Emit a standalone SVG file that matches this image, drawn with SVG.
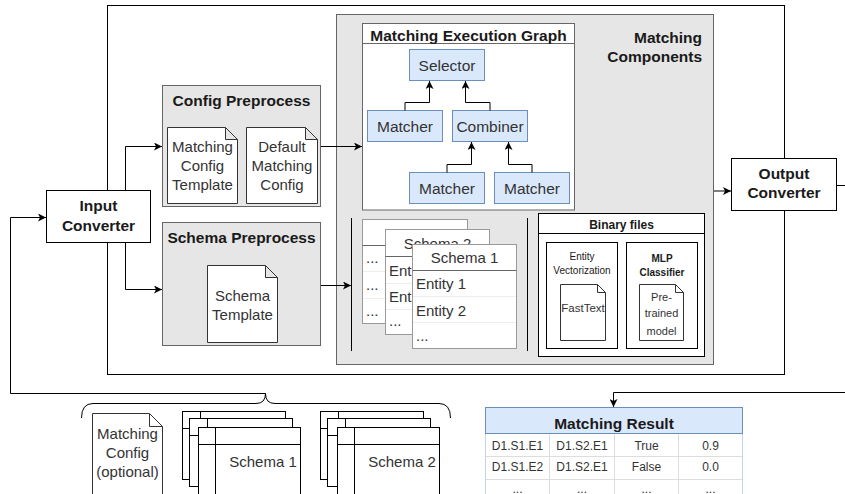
<svg xmlns="http://www.w3.org/2000/svg" width="845" height="494" viewBox="0 0 845 494">
  <defs>
    <marker id="arr" viewBox="0 0 10 10" refX="10" refY="5" markerWidth="8" markerHeight="8" markerUnits="userSpaceOnUse" orient="auto">
      <path d="M0,0 L10,5 L0,10 L2.5,5 Z" fill="#000"/>
    </marker>
    <style>
      text { font-family: "Liberation Sans", Arial, sans-serif; }
      .panel { fill: #e6e6e6; stroke: #666; stroke-width: 1; }
      .box { fill: #fff; stroke: #000; stroke-width: 1; }
      .wbox { fill: #fff; stroke: #666; stroke-width: 1; }
      .doc { fill: #fff; stroke: #333; stroke-width: 1; }
      .node { fill: #dae8fc; stroke: #6c8ebf; stroke-width: 1; }
      .card { fill: #fff; stroke: #999; stroke-width: 1; }
      .sep { stroke: #666; stroke-width: 1; fill: none; }
      .rowsep { stroke: #eee; stroke-width: 1; }
      .title { font-size: 15.5px; font-weight: bold; fill: #1a1a1a; }
      .lbl { font-size: 15px; fill: #333; }
      .nlbl { font-size: 15.5px; fill: #333; text-anchor: middle; }
      .mid { text-anchor: middle; }
      .small { font-size: 10px; fill: #1a1a1a; }
      .cell { font-size: 12px; fill: #333; text-anchor: middle; }
      .edge { fill: none; stroke: #000; stroke-width: 1; }
      .grid { stroke: #ddd; stroke-width: 1; }
    </style>
  </defs>

  <!-- outer system frame -->
  <rect x="107.5" y="5.5" width="677" height="369" fill="#fff" stroke="#000"/>

  <!-- Config Preprocess -->
  <g id="config-preprocess">
    <rect class="panel" x="162.5" y="85.5" width="158" height="121"/>
    <text class="title mid" x="241.5" y="106">Config Preprocess</text>
    <g id="matching-config-template">
      <path class="doc" d="M167.5,127.5 H225.5 L237.5,139.5 V203.5 H167.5 Z M225.5,127.5 V139.5 H237.5"/>
      <text class="lbl mid" x="202.5" y="152">Matching</text>
      <text class="lbl mid" x="202.5" y="171">Config</text>
      <text class="lbl mid" x="202.5" y="190">Template</text>
    </g>
    <g id="default-matching-config">
      <path class="doc" d="M246.5,127.5 H305.5 L317.5,139.5 V203.5 H246.5 Z M305.5,127.5 V139.5 H317.5"/>
      <text class="lbl mid" x="282" y="152">Default</text>
      <text class="lbl mid" x="282" y="171">Matching</text>
      <text class="lbl mid" x="282" y="190">Config</text>
    </g>
  </g>

  <!-- Schema Preprocess -->
  <g id="schema-preprocess">
    <rect class="panel" x="162.5" y="222.5" width="158" height="123"/>
    <text class="title mid" x="241.5" y="243">Schema Preprocess</text>
    <g id="schema-template">
      <path class="doc" d="M207.5,265.5 H265.5 L277.5,277.5 V342.5 H207.5 Z M265.5,265.5 V277.5 H277.5"/>
      <text class="lbl mid" x="242.5" y="301">Schema</text>
      <text class="lbl mid" x="242.5" y="320">Template</text>
    </g>
  </g>

  <!-- Matching Components -->
  <g id="matching-components">
    <rect class="panel" x="336.5" y="14.5" width="377" height="350"/>
    <text class="title" x="702" y="43" text-anchor="end">Matching</text>
    <text class="title" x="702" y="62" text-anchor="end">Components</text>
  </g>

  <!-- Matching Execution Graph -->
  <g id="matching-execution-graph">
    <rect class="wbox" x="362.5" y="23.5" width="212" height="186.5"/>
    <line class="sep" x1="362.5" y1="43.5" x2="574.5" y2="43.5"/>
    <text class="title mid" x="468.5" y="40.5">Matching Execution Graph</text>
  </g>
  <g id="selector">
    <rect class="node" x="409.5" y="49.5" width="75" height="31"/>
    <text class="nlbl" x="447" y="70.5">Selector</text>
  </g>
  <g id="matcher-a">
    <rect class="node" x="367.5" y="110.5" width="75" height="31"/>
    <text class="nlbl" x="405" y="131.5">Matcher</text>
  </g>
  <g id="combiner">
    <rect class="node" x="452.5" y="110.5" width="75" height="31"/>
    <text class="nlbl" x="490" y="131.5">Combiner</text>
  </g>
  <g id="matcher-b">
    <rect class="node" x="409.5" y="172.5" width="75" height="31"/>
    <text class="nlbl" x="447" y="193.5">Matcher</text>
  </g>
  <g id="matcher-c">
    <rect class="node" x="494.5" y="172.5" width="75" height="31"/>
    <text class="nlbl" x="532" y="193.5">Matcher</text>
  </g>

  <!-- schema store -->
  <g id="schema-store">
    <line class="edge" x1="351.5" y1="218" x2="351.5" y2="351"/>
    <line class="edge" x1="527.5" y1="218" x2="527.5" y2="351"/>
    <g id="schema-card-3">
      <rect class="card" x="362.5" y="219.5" width="105" height="104"/>
      <line class="sep" x1="362.5" y1="245.5" x2="467.5" y2="245.5"/>
      <line class="rowsep" x1="363" y1="271.5" x2="467" y2="271.5"/>
      <line class="rowsep" x1="363" y1="298.5" x2="467" y2="298.5"/>
      <text class="lbl" x="366" y="263" font-size="12">...</text>
      <text class="lbl" x="366" y="290" font-size="12">...</text>
      <text class="lbl" x="366" y="316" font-size="12">...</text>
    </g>
    <g id="schema-card-2">
      <rect class="card" x="385.5" y="229.5" width="104" height="105"/>
      <line class="sep" x1="385.5" y1="256.5" x2="489.5" y2="256.5"/>
      <line class="rowsep" x1="386" y1="283.5" x2="489" y2="283.5"/>
      <line class="rowsep" x1="386" y1="309.5" x2="489" y2="309.5"/>
      <text class="lbl mid" x="437.5" y="249">Schema 2</text>
      <text class="lbl" x="389" y="275.5">Entity 1</text>
      <text class="lbl" x="389" y="302">Entity 2</text>
      <text class="lbl" x="389" y="326" font-size="12">...</text>
    </g>
    <g id="schema-card-1">
      <rect class="card" x="412.5" y="244.5" width="104" height="104"/>
      <line class="sep" x1="412.5" y1="270.5" x2="516.5" y2="270.5"/>
      <line class="rowsep" x1="413" y1="296.5" x2="516" y2="296.5"/>
      <line class="rowsep" x1="413" y1="322.5" x2="516" y2="322.5"/>
      <text class="lbl mid" x="464.5" y="262.5">Schema 1</text>
      <text class="lbl" x="416" y="288.5">Entity 1</text>
      <text class="lbl" x="416" y="315.5">Entity 2</text>
      <text class="lbl" x="416" y="341" font-size="12">...</text>
    </g>
  </g>

  <!-- Binary files -->
  <g id="binary-files">
    <rect class="box" x="538.5" y="213.5" width="166" height="143"/>
    <line class="edge" x1="538.5" y1="233.5" x2="704.5" y2="233.5"/>
    <text class="mid" x="621.5" y="229" font-size="12" font-weight="bold" fill="#1a1a1a">Binary files</text>
    <g id="entity-vectorization">
      <rect class="box" x="546.5" y="242.5" width="71" height="106"/>
      <text class="small mid" x="582" y="259.5">Entity</text>
      <text class="small mid" x="582" y="273.5">Vectorization</text>
      <path class="doc" d="M560.5,284.5 H597.5 L605.5,292.5 V340.5 H560.5 Z M597.5,284.5 V292.5 H605.5"/>
      <text class="mid" x="583" y="312" font-size="11.5" fill="#333">FastText</text>
    </g>
    <g id="mlp-classifier">
      <rect class="box" x="626.5" y="242.5" width="71" height="106"/>
      <text class="small mid" x="662" y="261.5" font-weight="bold">MLP</text>
      <text class="small mid" x="662" y="275.5" font-weight="bold">Classifier</text>
      <path class="doc" d="M639.5,284.5 H675.5 L683.5,292.5 V340.5 H639.5 Z M675.5,284.5 V292.5 H683.5"/>
      <text class="mid" x="661.5" y="300.5" font-size="11" fill="#333">Pre-</text>
      <text class="mid" x="661.5" y="317" font-size="11" fill="#333">trained</text>
      <text class="mid" x="661.5" y="334.5" font-size="11" fill="#333">model</text>
    </g>
  </g>

  <!-- connectors -->
  <g id="connectors">
    <path class="edge" d="M125.5,190 V146.5 H162" marker-end="url(#arr)"/>
    <path class="edge" d="M125.5,243 V289.5 H162" marker-end="url(#arr)"/>
    <path class="edge" d="M321,146.5 H362" marker-end="url(#arr)"/>
    <path class="edge" d="M321,285.5 H351" marker-end="url(#arr)"/>
    <path class="edge" d="M714,191 H731" marker-end="url(#arr)"/>
    <path class="edge" d="M837,185.5 H846"/>
    <path class="edge" d="M846,392.5 H613.5 V407" marker-end="url(#arr)"/>
    <path class="edge" d="M265.5,393 V393.5 H10.5 V217.5 H46" marker-end="url(#arr)"/>
    <path class="edge" d="M405,110.5 V102.5 H429.5 V81" marker-end="url(#arr)"/>
    <path class="edge" d="M490,110.5 V102.5 H465.5 V81" marker-end="url(#arr)"/>
    <path class="edge" d="M447,172.5 V164.5 H471.5 V142" marker-end="url(#arr)"/>
    <path class="edge" d="M532,172.5 V164.5 H508.5 V142" marker-end="url(#arr)"/>
  </g>

  <!-- converters -->
  <g id="input-converter">
    <rect class="box" x="46.5" y="190.5" width="104" height="52"/>
    <text class="title mid" x="98.5" y="211">Input</text>
    <text class="title mid" x="98.5" y="230.5">Converter</text>
  </g>
  <g id="output-converter">
    <rect class="box" x="731.5" y="158.5" width="105" height="52"/>
    <text class="title mid" x="784" y="179">Output</text>
    <text class="title mid" x="784" y="198">Converter</text>
  </g>

  <!-- input bundle -->
  <g id="input-bundle">
    <path class="edge" d="M81.5,418 Q81.5,403.5 93,403.5 H256 Q265.5,403.5 265.5,393.5 Q265.5,403.5 275,403.5 H439 Q450.5,403.5 450.5,418" stroke="#333"/>
    <g id="matching-config-optional">
      <path class="doc" d="M92.5,413.5 H149.5 L162.5,426.5 V505 H92.5 Z M149.5,413.5 V426.5 H162.5"/>
      <text class="lbl mid" x="127.5" y="438.5">Matching</text>
      <text class="lbl mid" x="127.5" y="458">Config</text>
      <text class="lbl mid" x="127.5" y="477">(optional)</text>
    </g>
    <g id="schema-1-files">
      <rect class="box" x="182.5" y="411.5" width="103" height="68" stroke="#333"/>
      <path class="edge" d="M200.5,411.5 V479.5 M182.5,428.5 H285.5" stroke="#333"/>
      <rect class="box" x="189.5" y="418.5" width="103" height="68" stroke="#333"/>
      <path class="edge" d="M207.5,418.5 V486.5 M189.5,435.5 H292.5" stroke="#333"/>
      <rect class="box" x="198.5" y="427.5" width="102" height="75" stroke="#333"/>
      <path class="edge" d="M215.5,427.5 V502 M198.5,444.5 H300.5" stroke="#333"/>
      <text class="lbl" x="263" y="467" text-anchor="middle">Schema 1</text>
    </g>
    <g id="schema-2-files">
      <rect class="box" x="320.5" y="411.5" width="103" height="68" stroke="#333"/>
      <path class="edge" d="M338.5,411.5 V479.5 M320.5,428.5 H423.5" stroke="#333"/>
      <rect class="box" x="327.5" y="418.5" width="103" height="68" stroke="#333"/>
      <path class="edge" d="M345.5,418.5 V486.5 M327.5,435.5 H430.5" stroke="#333"/>
      <rect class="box" x="337.5" y="427.5" width="102" height="75" stroke="#333"/>
      <path class="edge" d="M354.5,427.5 V502 M337.5,444.5 H439.5" stroke="#333"/>
      <text class="lbl" x="402" y="467" text-anchor="middle">Schema 2</text>
    </g>
  </g>

  <!-- Matching Result table -->
  <g id="matching-result">
    <rect x="485.5" y="407.5" width="257" height="100" fill="#fff" stroke="#c3d4ec"/>
    <rect class="node" x="485.5" y="407.5" width="257" height="26"/>
    <text class="title mid" x="614" y="429">Matching Result</text>
    <g class="grid">
      <line x1="486" y1="456.5" x2="742" y2="456.5"/>
      <line x1="486" y1="479.5" x2="742" y2="479.5"/>
      <line x1="549.5" y1="434" x2="549.5" y2="494"/>
      <line x1="614.5" y1="434" x2="614.5" y2="494"/>
      <line x1="678.5" y1="434" x2="678.5" y2="494"/>
    </g>
    <text class="cell" x="517.5" y="450">D1.S1.E1</text>
    <text class="cell" x="582" y="450">D1.S2.E1</text>
    <text class="cell" x="646.5" y="450">True</text>
    <text class="cell" x="710.5" y="450">0.9</text>
    <text class="cell" x="517.5" y="471">D1.S1.E2</text>
    <text class="cell" x="582" y="471">D1.S2.E1</text>
    <text class="cell" x="646.5" y="471">False</text>
    <text class="cell" x="710.5" y="471">0.0</text>
    <text class="cell" x="517.5" y="493">...</text>
    <text class="cell" x="582" y="493">...</text>
    <text class="cell" x="646.5" y="493">...</text>
    <text class="cell" x="710.5" y="493">...</text>
  </g>
</svg>
